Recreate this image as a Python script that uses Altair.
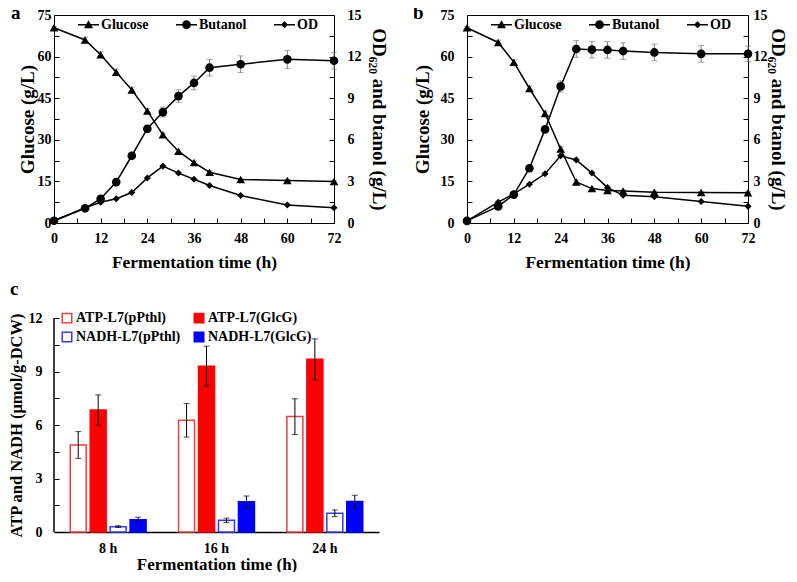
import altair as alt
import pandas as pd

FONT = "Liberation Serif"

# ---------------- data: panels a and b ----------------
time_h = [0, 8, 12, 16, 20, 24, 28, 32, 36, 40, 48, 60, 72]

a_glucose = [70.4, 66.0, 60.7, 54.4, 48.0, 40.4, 31.8, 25.9, 21.8, 18.3, 15.7, 15.3, 15.0]
a_glucose_err = [0.4, 1.0, 1.0, 1.1, 1.0, 0.8, 0.6, 0.5, 0.5, 0.4, 0.4, 0.4, 0.4]
a_butanol = [0.16, 1.06, 1.75, 2.95, 4.85, 6.8, 8.0, 9.15, 10.1, 11.2, 11.45, 11.8, 11.7]
a_butanol_err = [0.05, 0.1, 0.12, 0.15, 0.2, 0.25, 0.35, 0.45, 0.5, 0.6, 0.6, 0.65, 0.6]
a_od = [0.16, 1.1, 1.5, 1.75, 2.2, 3.25, 4.1, 3.6, 3.15, 2.7, 1.98, 1.3, 1.1]

b_glucose = [70.4, 65.1, 58.0, 48.5, 39.5, 26.7, 14.8, 12.4, 11.7, 11.5, 11.1, 11.0, 10.9]
b_glucose_err = [0.4, 0.8, 0.8, 0.9, 0.9, 0.8, 0.6, 0.5, 0.5, 0.4, 0.4, 0.4, 0.4]
b_butanol = [0.15, 1.2, 2.05, 3.95, 6.75, 9.85, 12.55, 12.5, 12.48, 12.4, 12.3, 12.2, 12.2]
b_butanol_err = [0.05, 0.1, 0.1, 0.15, 0.2, 0.4, 0.6, 0.6, 0.6, 0.6, 0.6, 0.6, 0.55]
b_od = [0.16, 1.5, 2.1, 2.8, 3.55, 4.85, 4.55, 3.6, 2.55, 2.0, 1.9, 1.55, 1.2]

legend_series = ["Glucose", "Butanol", "OD"]

# ---------------- data: panel c ----------------
c_times = ["8 h", "16 h", "24 h"]
c_series = ["ATP-L7(pPthl)", "ATP-L7(GlcG)", "NADH-L7(pPthl)", "NADH-L7(GlcG)"]
atp_pPthl = [4.88, 6.26, 6.47]
atp_pPthl_err = [0.75, 0.94, 1.0]
atp_GlcG = [6.84, 9.3, 9.68]
atp_GlcG_err = [0.85, 1.12, 1.15]
nadh_pPthl = [0.3, 0.66, 1.05]
nadh_pPthl_err = [0.05, 0.12, 0.19]
nadh_GlcG = [0.69, 1.69, 1.71]
nadh_GlcG_err = [0.14, 0.33, 0.35]

# legend symbols (line + marker) as filled paths, unit coordinates
LINE = "M-1,-0.07L1,-0.07L1,0.07L-1,0.07Z"
TRI = LINE + "M0,-0.42L0.43,0.34L-0.43,0.34Z"
CIR = LINE + "M0.42,0A0.42,0.42 0 1,1 -0.42,0A0.42,0.42 0 1,1 0.42,0Z"
DIA = LINE + "M0,-0.34L0.34,0L0,0.34L-0.34,0Z"

ERR = "#7f7f7f"


def line_panel(letter, glu, glu_err, but, but_err, od, W, H,
               lp_l, tp_l, lp_r, tp_r, letter_x, ltitle_size):
    df = pd.DataFrame({
        "t": time_h,
        "glu": glu,
        "glu_lo": [v - e for v, e in zip(glu, glu_err)],
        "glu_hi": [v + e for v, e in zip(glu, glu_err)],
        "but": but,
        "but_lo": [v - e for v, e in zip(but, but_err)],
        "but_hi": [v + e for v, e in zip(but, but_err)],
        "od": od,
    })
    xaxis = alt.Axis(title="Fermentation time (h)", values=list(range(0, 73, 6)),
                     labelExpr="datum.value % 12 == 0 ? datum.label : ''",
                     offset=-5, tickSize=5, domain=False, labelPadding=8,
                     titlePadding=8, titleFontSize=17.5, labelFlush=False)
    xscale = alt.Scale(domain=[0, 72], nice=False, zero=False)

    def X(f="t"):
        return alt.X(f + ":Q", scale=xscale, axis=xaxis)

    lscale = alt.Scale(domain=[0, 75], nice=False)
    laxis = alt.Axis(title="Glucose (g/L)", orient="left",
                     values=[i * 7.5 for i in range(11)],
                     labelExpr="datum.value % 15 == 0 ? datum.label : ''",
                     offset=-5, tickSize=5, domain=False, labelPadding=lp_l,
                     titlePadding=tp_l, titleFontSize=ltitle_size, labelFlush=False)

    def YL(f):
        return alt.Y(f + ":Q", scale=lscale, axis=laxis)

    rscale = alt.Scale(domain=[0, 15], nice=False)
    raxis = alt.Axis(title="OD₆₂₀ and btanol (g/L)", orient="right",
                     values=[i * 1.5 for i in range(11)],
                     labelExpr="datum.value % 3 == 0 ? datum.label : ''",
                     offset=-5, tickSize=5, domain=False, labelPadding=lp_r,
                     titlePadding=tp_r, titleFontSize=19, labelFlush=False)

    def YR(f):
        return alt.Y(f + ":Q", scale=rscale, axis=raxis)

    base = alt.Chart(df)
    glu_rule = base.mark_rule(color=ERR, strokeWidth=1).encode(x=X(), y=YL("glu_lo"), y2="glu_hi:Q")
    glu_cap1 = base.mark_tick(orient="horizontal", size=6, thickness=1, color=ERR).encode(x=X(), y=YL("glu_lo"))
    glu_cap2 = base.mark_tick(orient="horizontal", size=6, thickness=1, color=ERR).encode(x=X(), y=YL("glu_hi"))
    glu_line = base.mark_line(color="black", strokeWidth=1.5).encode(x=X(), y=YL("glu"))
    glu_pts = base.mark_point(shape="triangle-up", filled=True, color="black", size=75, opacity=1).encode(x=X(), y=YL("glu"))

    leg_df = pd.DataFrame({"series": legend_series, "t": [0, 0, 0], "glu": [-50, -50, -50]})
    legend_layer = alt.Chart(leg_df).mark_point(filled=True, color="black", opacity=1, clip=True).encode(
        x=X(), y=YL("glu"),
        shape=alt.Shape("series:N",
                        scale=alt.Scale(domain=legend_series, range=[TRI, CIR, DIA]),
                        legend=alt.Legend(title=None, orient="none", direction="horizontal",
                                          legendX=24, legendY=-1, padding=0,
                                          symbolSize=441, symbolStrokeWidth=0,
                                          symbolFillColor="black",
                                          symbolOpacity=1, labelOffset=2, columnPadding=27,
                                          labelFont=FONT, labelFontSize=14, labelFontWeight="bold",
                                          labelColor="black")))

    lab = alt.Chart(pd.DataFrame({"l": [letter]})).mark_text(
        align="left", baseline="alphabetic", fontSize=19, fontWeight="bold", font=FONT, color="black"
    ).encode(x=alt.value(letter_x), y=alt.value(4), text="l:N")

    left = alt.layer(glu_rule, glu_cap1, glu_cap2, glu_line, glu_pts, legend_layer, lab)

    but_rule = base.mark_rule(color=ERR, strokeWidth=1).encode(x=X(), y=YR("but_lo"), y2="but_hi:Q")
    but_cap1 = base.mark_tick(orient="horizontal", size=6, thickness=1, color=ERR).encode(x=X(), y=YR("but_lo"))
    but_cap2 = base.mark_tick(orient="horizontal", size=6, thickness=1, color=ERR).encode(x=X(), y=YR("but_hi"))
    but_line = base.mark_line(color="black", strokeWidth=1.5).encode(x=X(), y=YR("but"))
    but_pts = base.mark_point(shape="circle", filled=True, color="black", size=75, opacity=1).encode(x=X(), y=YR("but"))
    od_line = base.mark_line(color="black", strokeWidth=1.5).encode(x=X(), y=YR("od"))
    od_pts = base.mark_point(shape="diamond", filled=True, color="black", size=50, opacity=1).encode(x=X(), y=YR("od"))
    right = alt.layer(but_rule, but_cap1, but_cap2, but_line, but_pts, od_line, od_pts)

    return alt.layer(left, right).resolve_scale(y="independent").properties(
        width=W, height=H, view=alt.ViewBackground(stroke="black", strokeWidth=1))


panel_a = line_panel("a", a_glucose, a_glucose_err, a_butanol, a_butanol_err, a_od,
                     280, 208, 3, 0, 13, 7, -43, 19)
panel_b = line_panel("b", b_glucose, b_glucose_err, b_butanol, b_butanol_err, b_od,
                     281, 208, 13, 8, 5, 0, -54, 19)

# ---------------- panel c ----------------
rows = []
vals = [atp_pPthl, atp_GlcG, nadh_pPthl, nadh_GlcG]
errs = [atp_pPthl_err, atp_GlcG_err, nadh_pPthl_err, nadh_GlcG_err]
for s, v, e in zip(c_series, vals, errs):
    for t, vv, ee in zip(c_times, v, e):
        rows.append({"time": t, "series": s, "value": vv, "lo": vv - ee, "hi": vv + ee})
cdf = pd.DataFrame(rows)

CH = 214
cx = alt.X("time:N", sort=c_times,
           scale=alt.Scale(paddingInner=0.3, paddingOuter=0.15),
           axis=alt.Axis(title="Fermentation time (h)", ticks=False, domain=True,
                         domainColor="black", domainWidth=1.5, labelAngle=0,
                         labelPadding=9, titlePadding=1, titleFontSize=17))
cxo = alt.XOffset("series:N", sort=c_series,
                  scale=alt.Scale(paddingInner=0.2, paddingOuter=0))
cyscale = alt.Scale(domain=[0, 12], nice=False)
cyaxis = alt.Axis(title="ATP and NADH (μmol/g-DCW)", values=[i * 1.5 for i in range(9)],
                  labelExpr="datum.value % 3 == 0 ? datum.label : ''",
                  offset=-5, tickSize=5, domain=False, labelPadding=12, titlePadding=4,
                  titleFontSize=16.5, labelFlush=False)


def CY(f):
    return alt.Y(f + ":Q", scale=cyscale, axis=cyaxis)


c_legend = alt.Legend(title=None, orient="none", legendX=6, legendY=-7, direction="horizontal",
                      columns=2, padding=0, symbolType="square", symbolSize=90,
                      symbolStrokeWidth=1.5, rowPadding=3, columnPadding=10,
                      labelOffset=2, labelFont=FONT, labelFontSize=14,
                      labelFontWeight="bold", labelColor="black")

cbase = alt.Chart(cdf)
bars = cbase.mark_bar(strokeWidth=1.5).encode(
    x=cx, xOffset=cxo, y=CY("value"),
    fill=alt.Fill("series:N", sort=c_series,
                  scale=alt.Scale(domain=c_series, range=["white", "#ff0000", "white", "#0000ff"]),
                  legend=c_legend),
    stroke=alt.Stroke("series:N", sort=c_series,
                      scale=alt.Scale(domain=c_series, range=["#e8403a", "#ff0000", "#3a3ae8", "#0000ff"]),
                      legend=c_legend),
)
c_rule = cbase.mark_rule(color="black", strokeWidth=1).encode(x=cx, xOffset=cxo, y=CY("lo"), y2="hi:Q")
c_cap1 = cbase.mark_tick(orient="horizontal", size=6, thickness=1, color="black").encode(x=cx, xOffset=cxo, y=CY("lo"))
c_cap2 = cbase.mark_tick(orient="horizontal", size=6, thickness=1, color="black").encode(x=cx, xOffset=cxo, y=CY("hi"))
c_left = alt.Chart(pd.DataFrame({"k": [0]})).mark_rule(color="black", strokeWidth=1.5).encode(
    x=alt.value(0), y=alt.value(0), y2=alt.value(CH))
c_lab = alt.Chart(pd.DataFrame({"l": ["c"]})).mark_text(
    align="left", baseline="alphabetic", fontSize=19, fontWeight="bold", font=FONT, color="black"
).encode(x=alt.value(-44), y=alt.value(-23), text="l:N")

panel_c = alt.layer(bars, c_rule, c_cap1, c_cap2, c_left, c_lab).properties(width=325, height=CH)

top = alt.hconcat(panel_a, panel_b, spacing=24).resolve_legend(shape="independent")
chart = alt.vconcat(top, panel_c, spacing=9).resolve_legend(
    shape="independent", fill="independent", stroke="independent"
).properties(
    padding={"left": 0, "top": -5, "right": 0, "bottom": 0}
).configure(font=FONT).configure_axis(
    labelFont=FONT, titleFont=FONT, labelFontSize=14, labelFontWeight="bold",
    titleFontWeight="bold", labelColor="black", titleColor="black",
    tickColor="black", tickWidth=1, grid=False
).configure_view(stroke=None)

chart.save("out.html", embed_options={"renderer": "svg", "actions": False})
